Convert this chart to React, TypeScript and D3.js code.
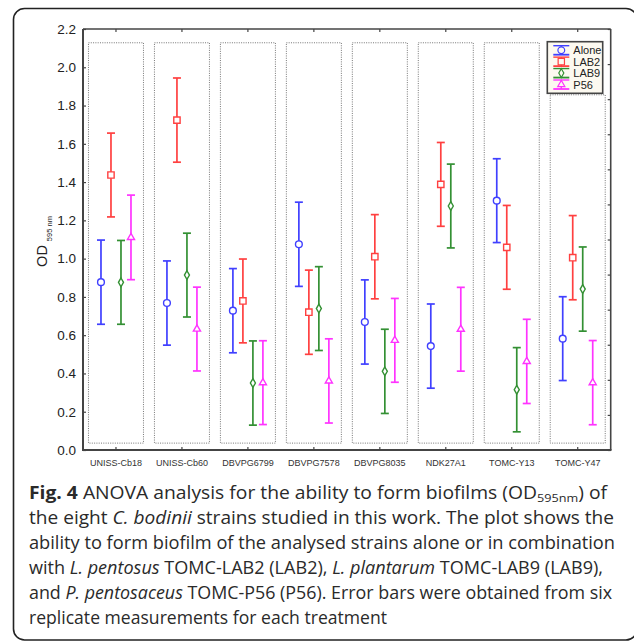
import {useEffect, useRef} from "react";
import * as d3 from "d3";

// strains on the x axis
const categories = ["UNISS-Cb18", "UNISS-Cb60", "DBVPG6799", "DBVPG7578", "DBVPG8035", "NDK27A1", "TOMC-Y13", "TOMC-Y47"];
const seriesNames = ["Alone", "LAB2", "LAB9", "P56"];

// OD595 means per treatment
const aloneMean = [0.877, 0.768, 0.728, 1.075, 0.669, 0.543, 1.303, 0.582];
const lab2Mean = [1.437, 1.724, 0.779, 0.720, 1.010, 1.388, 1.059, 1.005];
const lab9Mean = [0.876, 0.914, 0.350, 0.739, 0.411, 1.275, 0.315, 0.841];
const p56Mean = [1.111, 0.632, 0.352, 0.361, 0.573, 0.631, 0.463, 0.352];

// half width of the error bars
const aloneErr = [0.220, 0.220, 0.220, 0.220, 0.220, 0.220, 0.219, 0.219];
const lab2Err = [0.219, 0.220, 0.219, 0.220, 0.220, 0.219, 0.219, 0.220];
const lab9Err = [0.219, 0.219, 0.220, 0.219, 0.220, 0.219, 0.220, 0.220];
const p56Err = [0.221, 0.219, 0.219, 0.220, 0.219, 0.219, 0.220, 0.220];

const yTicks = [0, 0.2, 0.4, 0.6, 0.8, 1.0, 1.2, 1.4, 1.6, 1.8, 2.0, 2.2];

const colors = ["#4040ff", "#ff4040", "#339033", "#ff33ff"];
const shapes = ["circle", "square", "diamond", "triangle"];

const chartFont = "'Liberation Sans', Arial, sans-serif";

function App() {

    const ref = useRef<SVGSVGElement | null>(null);

    useEffect(() => {

        const W = 634, H = 641;
        const margin = {top: 29, right: 23.3, bottom: 191, left: 83};

        const root = d3.select(ref.current);
        root.selectAll("*").remove();
        root.attr("width", W).attr("height", H);

        const svg = root.append("g");

        // outer rounded frame (right and bottom edges run off the picture)
        svg.append("rect")
            .attr("x", 13.5).attr("y", 8.5)
            .attr("width", 623.5).attr("height", 631.5)
            .attr("rx", 11)
            .attr("fill", "white")
            .attr("stroke", "#222")
            .attr("stroke-width", 1.6);

        const dataReady = seriesNames.map((name, s) => {
            const means = [aloneMean, lab2Mean, lab9Mean, p56Mean][s];
            const errs = [aloneErr, lab2Err, lab9Err, p56Err][s];
            return {
                name: name,
                idx: s,
                values: categories.map((c, i) => ({cat: c, mean: means[i], err: errs[i]}))
            };
        });

        const x = d3.scaleBand()
            .domain(categories)
            .range([margin.left, W - margin.right]);

        const xs = d3.scaleBand()
            .domain(seriesNames)
            .range([-20, 20]);

        const y = d3.scaleLinear()
            .domain([0, 2.2])
            .range([H - margin.bottom, margin.top]);

        const cx = (c: string) => (x(c) as number) + x.bandwidth() / 2;

        // legend box geometry
        const legend = {x: 547.3, y: 41.7, w: 55.4, h: 51.6};

        // dotted panels round each strain
        const panelTop = 2.128, panelBottom = 0.036;
        const panelY = (d: string) => {
            let top = y(panelTop);
            if (cx(d) + 27.5 > legend.x && top < legend.y + legend.h) top = legend.y + legend.h + 1.5;
            return top;
        };
        svg.selectAll("rect.panel")
            .data(categories)
            .enter()
            .append("rect")
            .attr("class", "panel")
            .attr("x", d => cx(d) - 27.5)
            .attr("width", 55)
            .attr("y", d => panelY(d))
            .attr("height", d => y(panelBottom) - panelY(d))
            .attr("fill", "none")
            .attr("stroke", "#666")
            .attr("stroke-width", 0.9)
            .attr("stroke-dasharray", "1,1.3");

        // axes box
        const axisColor = "#444";
        svg.append("line")
            .attr("x1", margin.left).attr("x2", W - margin.right)
            .attr("y1", margin.top).attr("y2", margin.top)
            .attr("stroke", axisColor).attr("stroke-width", 1.4);
        svg.append("line")
            .attr("x1", W - margin.right).attr("x2", W - margin.right)
            .attr("y1", margin.top).attr("y2", y(0))
            .attr("stroke", axisColor).attr("stroke-width", 1.6);
        svg.append("line")
            .attr("x1", margin.left).attr("x2", margin.left)
            .attr("y1", margin.top).attr("y2", y(0))
            .attr("stroke", axisColor).attr("stroke-width", 2);
        svg.append("line")
            .attr("x1", margin.left - 1).attr("x2", W - margin.right + 0.8)
            .attr("y1", y(0)).attr("y2", y(0))
            .attr("stroke", axisColor).attr("stroke-width", 2);

        // left axis
        const yAxis = svg.append("g")
            .attr("transform", `translate(${margin.left},0)`)
            .call(d3.axisLeft(y).tickValues(yTicks).tickSize(-3).tickPadding(7).tickFormat(d3.format(".1f")));
        yAxis.select(".domain").remove();
        yAxis.selectAll("line").attr("stroke", axisColor).attr("stroke-width", 1.2);
        yAxis.selectAll("text")
            .style("font-family", chartFont)
            .style("font-size", "13.5px")
            .attr("fill", "#222");

        // right axis: mirror ticks (twelve divisions)
        const yr = d3.scaleLinear().domain([0, 12]).range(y.range());
        const rAxis = svg.append("g")
            .attr("transform", `translate(${W - margin.right},0)`)
            .call(d3.axisRight(yr).ticks(12).tickSize(-3).tickFormat(() => ""));
        rAxis.select(".domain").remove();
        rAxis.selectAll("line").attr("stroke", axisColor).attr("stroke-width", 1.2);

        // bottom axis
        const xAxis = svg.append("g")
            .attr("transform", `translate(0,${y(0)})`)
            .call(d3.axisBottom(x).tickSize(-3).tickPadding(10));
        xAxis.select(".domain").remove();
        xAxis.selectAll("line").attr("stroke", axisColor).attr("stroke-width", 1.2);
        xAxis.selectAll("text")
            .style("font-family", chartFont)
            .style("font-size", "9px")
            .attr("fill", "#333");

        // top mirror ticks
        const tAxis = svg.append("g")
            .attr("transform", `translate(0,${margin.top})`)
            .call(d3.axisTop(x).tickSize(-3).tickFormat(() => ""));
        tAxis.select(".domain").remove();
        tAxis.selectAll("line").attr("stroke", axisColor).attr("stroke-width", 1.2);

        // y axis title
        const yTitle = svg.append("text")
            .attr("transform", `translate(47,${(y(0) + margin.top) / 2 + 2}) rotate(-90)`)
            .attr("text-anchor", "middle")
            .style("font-family", chartFont)
            .attr("fill", "#222");
        yTitle.append("tspan").style("font-size", "14.5px").text("OD");
        yTitle.append("tspan").style("font-size", "7.5px").attr("dx", 4).attr("dy", 5).text("595 nm");

        const symbol = (shape: string) => {
            if (shape === "circle") return d3.symbol(d3.symbolCircle, 36)();
            if (shape === "square") return d3.symbol(d3.symbolSquare, 40)();
            if (shape === "diamond") return d3.symbol(d3.symbolDiamond, 22)();
            return d3.symbol(d3.symbolTriangle, 22)();
        };

        // error bars
        const groups = svg.selectAll("g.series")
            .data(dataReady)
            .enter()
            .append("g")
            .attr("class", "series")
            .attr("stroke", d => colors[d.idx])
            .attr("fill", "white");

        const pts = groups.selectAll("g.pt")
            .data(d => d.values.map(v => ({...v, name: d.name, idx: d.idx})))
            .enter()
            .append("g")
            .attr("class", "pt")
            .attr("transform", d => `translate(${cx(d.cat) + (xs(d.name) as number) + xs.bandwidth() / 2},0)`);

        pts.append("line")
            .attr("y1", d => y(d.mean + d.err))
            .attr("y2", d => y(d.mean - d.err))
            .attr("stroke-width", 1.7);
        pts.append("line")
            .attr("x1", -4).attr("x2", 4)
            .attr("y1", d => y(d.mean + d.err)).attr("y2", d => y(d.mean + d.err))
            .attr("stroke-width", 1.7);
        pts.append("line")
            .attr("x1", -4).attr("x2", 4)
            .attr("y1", d => y(d.mean - d.err)).attr("y2", d => y(d.mean - d.err))
            .attr("stroke-width", 1.7);
        pts.append("path")
            .attr("d", d => symbol(shapes[d.idx]))
            .attr("transform", d => `translate(0,${y(d.mean)})`)
            .attr("stroke-width", 1.4);

        // legend
        const lg = svg.append("g");
        lg.append("rect")
            .attr("x", legend.x).attr("y", legend.y)
            .attr("width", legend.w).attr("height", legend.h)
            .attr("fill", "#fcf9f0")
            .attr("stroke", "#444")
            .attr("stroke-width", 1.6);
        const ly = d3.scalePoint().domain(seriesNames).range([legend.y + 8.5, legend.y + 42.8]);
        const items = lg.selectAll("g.item")
            .data(dataReady)
            .enter()
            .append("g")
            .attr("transform", d => `translate(${legend.x + 14},${ly(d.name)})`);
        items.append("line").attr("x1", 0).attr("x2", 0).attr("y1", -4.5).attr("y2", 4.5)
            .attr("stroke", d => colors[d.idx]).attr("stroke-width", 1.4);
        items.append("line").attr("x1", -8).attr("x2", 8).attr("y1", -4.5).attr("y2", -4.5)
            .attr("stroke", d => colors[d.idx]).attr("stroke-width", 1.4);
        items.append("line").attr("x1", -8).attr("x2", 8).attr("y1", 4.5).attr("y2", 4.5)
            .attr("stroke", d => colors[d.idx]).attr("stroke-width", 1.8);
        items.append("path")
            .attr("d", d => symbol(shapes[d.idx]))
            .attr("fill", "#fcf9f0")
            .attr("stroke", d => colors[d.idx])
            .attr("stroke-width", 1.2);
        items.append("text")
            .attr("x", 12).attr("y", 4)
            .style("font-family", chartFont)
            .style("font-size", "11px")
            .attr("fill", "#222")
            .text(d => d.name);

        // caption
        const capLines: [string, string][][] = [
            [["b", "Fig. 4"], ["n", " ANOVA analysis for the ability to form biofilms (OD"], ["s", "595nm"], ["n", ") of"]],
            [["n", "the eight "], ["i", "C. bodinii"], ["n", " strains studied in this work. The plot shows the"]],
            [["n", "ability to form biofilm of the analysed strains alone or in combination"]],
            [["n", "with "], ["i", "L. pentosus"], ["n", " TOMC-LAB2 (LAB2), "], ["i", "L. plantarum"], ["n", " TOMC-LAB9 (LAB9),"]],
            [["n", "and "], ["i", "P. pentosaceus"], ["n", " TOMC-P56 (P56). Error bars were obtained from six"]],
            [["n", "replicate measurements for each treatment"]]
        ];
        const capWidths = [578, 585, 586, 574, 583, 358];
        capLines.forEach((line, i) => {
            const t = svg.append("text")
                .attr("x", 29)
                .attr("y", 498.5 + i * 25)
                .attr("textLength", capWidths[i])
                .attr("lengthAdjust", "spacingAndGlyphs")
                .style("font-family", "'Open Sans', sans-serif")
                .style("font-size", "17.5px")
                .attr("fill", "#2a2a2a");
            line.forEach(([kind, str]) => {
                const sp = t.append("tspan").text(str);
                if (kind === "b") sp.style("font-weight", "bold");
                if (kind === "i") sp.style("font-style", "italic");
                if (kind === "s") sp.style("font-size", "11.5px").attr("dy", 3);
                if (kind === "n" && str.startsWith(")")) sp.attr("dy", -3);
            });
        });

    }, []);

    return <svg ref={ref} style={{position: "absolute", left: 0, top: 0}}></svg>
}

export default App;
